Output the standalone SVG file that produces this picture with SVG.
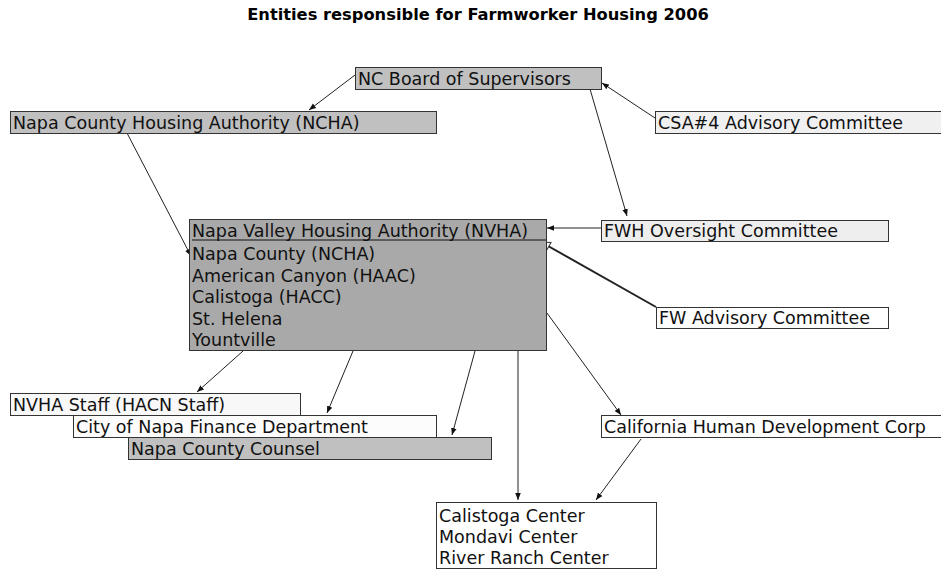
<svg xmlns="http://www.w3.org/2000/svg" width="941" height="569" viewBox="0 0 941 569">
<defs>
<style>
.t{font-family:"DejaVu Sans",Verdana,sans-serif;font-size:17.5px;fill:#111}
.title{font-family:"DejaVu Sans",Verdana,sans-serif;font-size:16.3px;font-weight:bold;fill:#000}
.b{stroke:#333;stroke-width:1}
.c{stroke:#222;stroke-width:1;fill:none}
.thick{stroke-width:2}
</style>
<marker id="a" viewBox="0 0 10 10" refX="10" refY="5" markerWidth="7" markerHeight="7" orient="auto" markerUnits="userSpaceOnUse">
<path d="M0,1 L10,5 L0,9 Z" fill="#111"/>
</marker>
<marker id="o" viewBox="0 0 12 12" refX="11" refY="6" markerWidth="12" markerHeight="12" orient="auto" markerUnits="userSpaceOnUse">
<path d="M2,1.5 L11,6 L2,10.5 Z" fill="#fff" stroke="#333" stroke-width="1"/>
</marker>
</defs>
<rect width="941" height="569" fill="#fff"/>
<text class="title" x="478" y="20" text-anchor="middle">Entities responsible for Farmworker Housing 2006</text>

<g id="connectors">
<line class="c" x1="355" y1="75" x2="309" y2="110" marker-end="url(#a)"/>
<line class="c" x1="655" y1="118" x2="602" y2="83" marker-end="url(#a)"/>
<line class="c" x1="590" y1="89" x2="627" y2="216" marker-end="url(#a)"/>
<line class="c" x1="127" y1="133" x2="191" y2="256" marker-end="url(#a)"/>
<line class="c" x1="601" y1="228" x2="547" y2="228" marker-end="url(#a)"/>
<line class="c thick" x1="656" y1="307" x2="541" y2="242" marker-end="url(#o)"/>
<line class="c" x1="243" y1="351" x2="197" y2="392" marker-end="url(#a)"/>
<line class="c" x1="353" y1="351" x2="327" y2="413" marker-end="url(#a)"/>
<line class="c" x1="475" y1="351" x2="452" y2="435" marker-end="url(#a)"/>
<line class="c" x1="518" y1="351" x2="518" y2="500" marker-end="url(#a)"/>
<line class="c" x1="547" y1="313" x2="621" y2="415" marker-end="url(#a)"/>
<line class="c" x1="641" y1="439" x2="596" y2="500" marker-end="url(#a)"/>
</g>

<g id="nc-board">
<rect class="b" x="355.5" y="67.5" width="246" height="22" fill="#c0c0c0"/>
<text class="t" x="358" y="85">NC Board of Supervisors</text>
</g>
<g id="ncha">
<rect class="b" x="10.5" y="111.5" width="426" height="22" fill="#c0c0c0"/>
<text class="t" x="13" y="129">Napa County Housing Authority (NCHA)</text>
</g>
<g id="csa4">
<rect class="b" x="655.5" y="111.5" width="300" height="22" fill="#f0f0f0"/>
<text class="t" x="658" y="129">CSA#4 Advisory Committee</text>
</g>
<g id="nvha">
<rect class="b" x="189.5" y="219.5" width="357" height="131" fill="#a9a9a9"/>
<line x1="192" y1="240" x2="546" y2="240" stroke="#111" stroke-width="1"/>
<text class="t" x="192" y="237">Napa Valley Housing Authority (NVHA)</text>
<text class="t" x="192" y="260">Napa County (NCHA)</text>
<text class="t" x="192" y="281.5">American Canyon (HAAC)</text>
<text class="t" x="192" y="303">Calistoga (HACC)</text>
<text class="t" x="192" y="324.5">St. Helena</text>
<text class="t" x="192" y="346">Yountville</text>
</g>
<g id="fwh-oversight">
<rect class="b" x="601.5" y="220.5" width="287" height="21" fill="#eeeeee"/>
<text class="t" x="604" y="237">FWH Oversight Committee</text>
</g>
<g id="fw-advisory">
<rect class="b" x="656.5" y="307.5" width="232" height="21" fill="#ffffff"/>
<text class="t" x="659" y="324">FW Advisory Committee</text>
</g>
<g id="nvha-staff">
<rect class="b" x="10.5" y="393.5" width="290" height="22" fill="#f8f8f8"/>
<text class="t" x="13" y="411">NVHA Staff (HACN Staff)</text>
</g>
<g id="city-finance">
<rect class="b" x="73.5" y="415.5" width="363" height="22" fill="#fcfcfc"/>
<text class="t" x="76" y="433">City of Napa Finance Department</text>
</g>
<g id="county-counsel">
<rect class="b" x="128.5" y="437.5" width="363" height="22" fill="#c0c0c0"/>
<text class="t" x="131" y="455">Napa County Counsel</text>
</g>
<g id="chdc">
<rect class="b" x="601.5" y="415.5" width="360" height="22" fill="#ffffff"/>
<text class="t" x="604" y="433">California Human Development Corp</text>
</g>
<g id="centers">
<rect class="b" x="436.5" y="502.5" width="220" height="66" fill="#ffffff"/>
<text class="t" x="439" y="522">Calistoga Center</text>
<text class="t" x="439" y="543">Mondavi Center</text>
<text class="t" x="439" y="564">River Ranch Center</text>
</g>
</svg>
